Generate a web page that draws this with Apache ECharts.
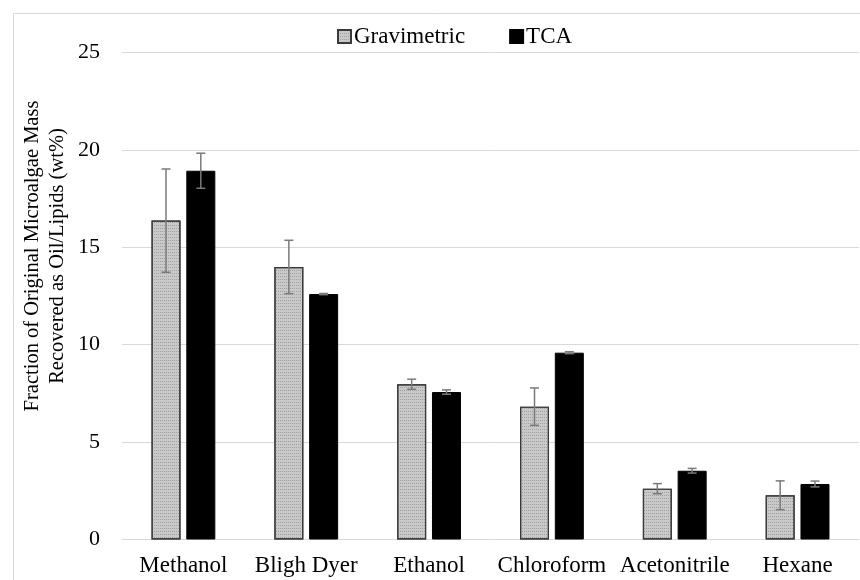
<!DOCTYPE html>
<html>
<head>
<meta charset="utf-8">
<script src="https://cdn.jsdelivr.net/npm/echarts@6/dist/echarts.min.js"></script>
<style>html,body{margin:0;padding:0;background:#fff;}#c{width:860px;height:580px;}</style>
</head>
<body>
<div id="c"></div>
<script>
const categories = ['Methanol', 'Bligh Dyer', 'Ethanol', 'Chloroform', 'Acetonitrile', 'Hexane'];
const gravimetric = [16.37, 13.99, 7.97, 6.82, 2.61, 2.27];
const gravimetricErr = [2.65, 1.37, 0.26, 0.96, 0.26, 0.74];
const tca = [18.93, 12.6, 7.57, 9.59, 3.53, 2.85];
const tcaErr = [0.9, 0.03, 0.11, 0.05, 0.12, 0.15];
const yTicks = [0, 5, 10, 15, 20, 25];

const FONT = '"Liberation Serif", "Times New Roman", serif';
const BAR_W = 29;
const GAP = 0.2;
const OFF = (BAR_W * (1 + GAP)) / 2;

function errData(vals, errs) {
  return vals.map((v, i) => [i, v, errs[i]]);
}
function errRender(offset) {
  return function (params, api) {
    const i = api.value(0), v = api.value(1), e = api.value(2);
    const x = api.coord([i, 0])[0] + offset;
    const yt = api.coord([i, v + e])[1];
    const yb = api.coord([i, v - e])[1];
    const st = { stroke: '#7a7a7a', lineWidth: 1.5 };
    const cap = 4.5;
    return {
      type: 'group',
      children: [
        { type: 'line', shape: { x1: x, y1: yt, x2: x, y2: yb }, style: st },
        { type: 'line', shape: { x1: x - cap, y1: yt, x2: x + cap, y2: yt }, style: st },
        { type: 'line', shape: { x1: x - cap, y1: yb, x2: x + cap, y2: yb }, style: st }
      ]
    };
  };
}

const chart = echarts.init(document.getElementById('c'), null, { renderer: 'canvas' });
chart.setOption({
  animation: false,
  backgroundColor: '#fff',
  textStyle: { fontFamily: FONT },
  legend: {
    top: 20,
    left: 332,
    icon: 'rect',
    itemWidth: 13,
    itemHeight: 13,
    itemGap: 44,
    textStyle: { fontFamily: FONT, fontSize: 23, color: '#000', padding: [0, 0, 0, -2] },
    data: ['Gravimetric', 'TCA']
  },
  grid: { left: 122, right: 1, top: 52.5, bottom: 40.5, containLabel: false },
  xAxis: {
    type: 'category',
    data: categories,
    axisLine: { lineStyle: { color: '#d9d9d9', width: 1 } },
    axisTick: { show: false },
    axisLabel: { fontFamily: FONT, fontSize: 23, color: '#000', margin: 15, interval: 0 }
  },
  yAxis: {
    type: 'value',
    min: yTicks[0],
    max: yTicks[yTicks.length - 1],
    interval: 5,
    axisLine: { show: false },
    axisTick: { show: false },
    splitLine: { lineStyle: { color: '#d9d9d9', width: 1 } },
    axisLabel: { fontFamily: FONT, fontSize: 22, color: '#000', margin: 22 }
  },
  graphic: [
    {
      type: 'rect', left: 11, top: 11, z: -1, silent: true,
      shape: { width: 870, height: 590 },
      style: { fill: null, stroke: '#d9d9d9', lineWidth: 1 }
    },
    {
      type: 'text', x: 45, y: 256, rotation: Math.PI / 2, silent: true,
      style: {
        text: 'Fraction of Original Microalgae Mass\nRecovered as Oil/Lipids (wt%)',
        fontFamily: FONT, fontSize: 20.5, fill: '#000', lineHeight: 25,
        align: 'center', verticalAlign: 'middle'
      }
    }
  ],
  series: [
    {
      name: 'Gravimetric', type: 'bar', data: gravimetric,
      barWidth: BAR_W, barGap: '20%',
      itemStyle: {
        color: '#c9c9c9', borderColor: '#3a3a3a', borderWidth: 1.2,
        decal: { symbol: 'rect', symbolSize: 1, color: 'rgba(110,110,110,0.45)', dashArrayX: [1, 1], dashArrayY: [1, 2], rotation: 0 }
      }
    },
    {
      name: 'TCA', type: 'bar', data: tca,
      barWidth: BAR_W,
      itemStyle: { color: '#000', borderColor: '#000', borderWidth: 1 }
    },
    {
      type: 'custom', name: 'gErr', data: errData(gravimetric, gravimetricErr),
      renderItem: errRender(-OFF), z: 10, silent: true
    },
    {
      type: 'custom', name: 'tErr', data: errData(tca, tcaErr),
      renderItem: errRender(OFF), z: 10, silent: true
    }
  ]
});
</script>
</body>
</html>
